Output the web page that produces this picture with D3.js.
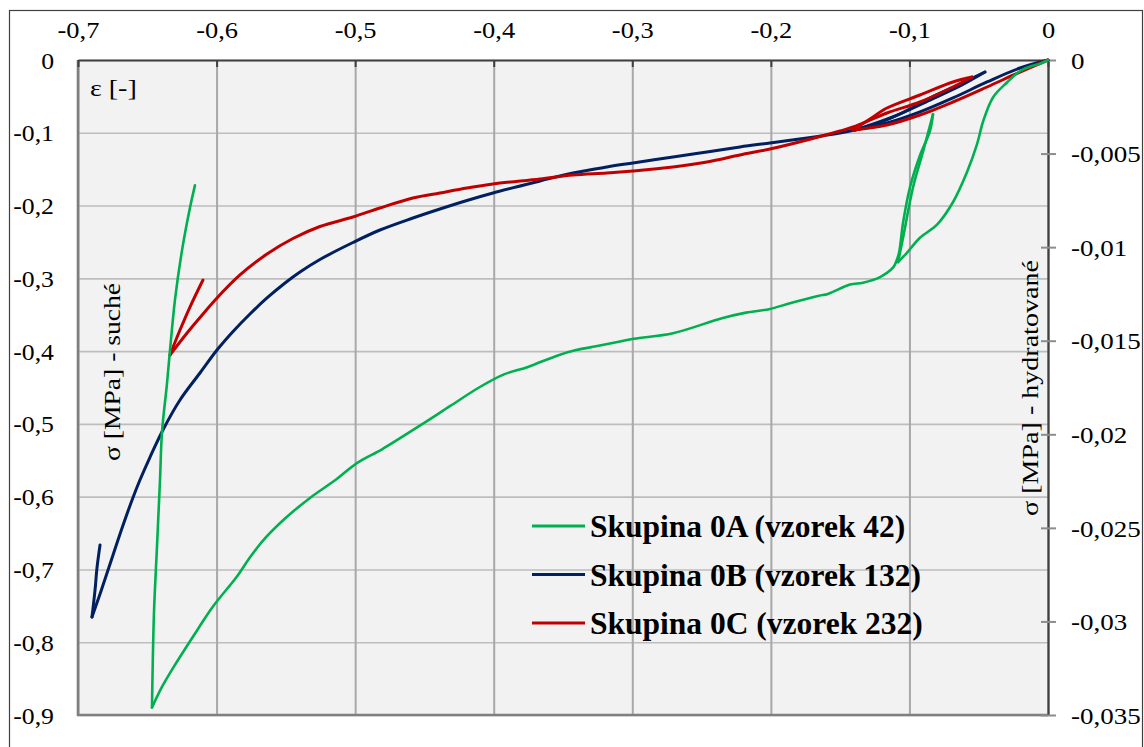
<!DOCTYPE html>
<html>
<head>
<meta charset="utf-8">
<script src="https://cdn.jsdelivr.net/npm/d3@7"></script>
<style>
  html, body { margin: 0; padding: 0; background: #ffffff; }
  svg { display: block; }
</style>
</head>
<body>
<svg id="chart" width="1144" height="747"></svg>
<script>
// Strain ticks (top axis) and stress ticks (left: dry, right: hydrated)
const xTicks = [-0.7, -0.6, -0.5, -0.4, -0.3, -0.2, -0.1, 0];
const yTicksLeft = [0, -0.1, -0.2, -0.3, -0.4, -0.5, -0.6, -0.7, -0.8, -0.9];
const yTicksRight = [0, -0.005, -0.01, -0.015, -0.02, -0.025, -0.03, -0.035];

const seriesNames = ["Skupina 0A (vzorek 42)", "Skupina 0B (vzorek 132)", "Skupina 0C (vzorek 232)"];
const seriesColors = ["#00b050", "#002060", "#c00000"];

// Skupina 0A – hydrated specimen, plotted against the right axis
const epsA = [0, -0.0058, -0.0108, -0.0202, -0.0296, -0.0397, -0.0469, -0.0512, -0.0585, -0.0686,
  -0.0801, -0.0924, -0.1018, -0.1082,
  -0.1046, -0.0974, -0.0902, -0.0830,
  -0.0852, -0.0924, -0.0996, -0.1046, -0.1075, -0.1097,
  -0.1119, -0.1212, -0.1335, -0.1429, -0.1588, -0.1653, -0.1862, -0.2006, -0.2179, -0.2353,
  -0.2706, -0.2988, -0.3125, -0.3262, -0.3406, -0.3543, -0.3753, -0.3926, -0.4106, -0.4316,
  -0.4525, -0.4806, -0.4979, -0.5153, -0.5326, -0.5506, -0.5643, -0.5752, -0.5853, -0.6026,
  -0.6134, -0.6307, -0.6394, -0.6466,
  -0.6452, -0.6430, -0.6408, -0.6394, -0.6358, -0.6336, -0.6300, -0.6250, -0.6192, -0.6156];
const sigmaA = [0, -0.0002, -0.0003, -0.0006, -0.0012, -0.0020, -0.0033, -0.0045, -0.0060, -0.0076,
  -0.0088, -0.0095, -0.0103, -0.0108,
  -0.0095, -0.0068, -0.0049, -0.0029,
  -0.0038, -0.0051, -0.0068, -0.0087, -0.0103, -0.0108,
  -0.0111, -0.0116, -0.0119, -0.0120, -0.0125, -0.0126, -0.0130, -0.0133, -0.0135, -0.0138,
  -0.0146, -0.0149, -0.0151, -0.0153, -0.0155, -0.0158, -0.0164, -0.0168, -0.0175, -0.0185,
  -0.0195, -0.0208, -0.0215, -0.0225, -0.0234, -0.0245, -0.0255, -0.0265, -0.0276, -0.0292,
  -0.0304, -0.0324, -0.0335, -0.0346,
  -0.0296, -0.0260, -0.0224, -0.0199, -0.0173, -0.0155, -0.0128, -0.0102, -0.0079, -0.0067];

// Skupina 0B – dry specimen, left axis
const epsB = [0, -0.0202, -0.0440, -0.0686, -0.0924, -0.1162, -0.1393,
  -0.1140, -0.0852, -0.0635, -0.0455,
  -0.0635, -0.0852, -0.1068, -0.1285, -0.1429,
  -0.1501, -0.1739, -0.2006, -0.2223, -0.2461, -0.2706, -0.2995, -0.3183, -0.3428, -0.3666,
  -0.4005, -0.4193, -0.4388, -0.4583, -0.4821, -0.5016, -0.5254, -0.5398, -0.5506, -0.5636, -0.5759,
  -0.5881, -0.5997, -0.6120, -0.6264, -0.6387, -0.6480, -0.6553, -0.6603, -0.6682, -0.6776, -0.6841, -0.6899,
  -0.6877, -0.6863, -0.6841];
const sigmaB = [0, -0.0110, -0.0302, -0.0522, -0.0714, -0.0866, -0.0962,
  -0.0797, -0.0550, -0.0357, -0.0165,
  -0.0330, -0.0522, -0.0742, -0.0907, -0.0976,
  -0.1003, -0.1072, -0.1140, -0.1195, -0.1264, -0.1333, -0.1415, -0.1470, -0.1553, -0.1663,
  -0.1827, -0.1930, -0.2047, -0.2171, -0.2336, -0.2508, -0.2741, -0.2913, -0.3064, -0.3270, -0.3490,
  -0.3730, -0.3985, -0.4301, -0.4672, -0.5084, -0.5455, -0.5771, -0.6011, -0.6430, -0.6966, -0.7337, -0.7653,
  -0.7282, -0.6980, -0.6664];

// Skupina 0C – dry specimen, left axis
const epsC = [0, -0.0202, -0.0440, -0.0686, -0.0924, -0.1162, -0.1407,
  -0.1285, -0.1162, -0.0924, -0.0686, -0.0548,
  -0.0686, -0.0924, -0.1162, -0.1407,
  -0.1501, -0.1739, -0.2006, -0.2223, -0.2461, -0.2706, -0.2995, -0.3183, -0.3428, -0.3666,
  -0.4005, -0.4193, -0.4388, -0.4583, -0.4821, -0.5016, -0.5254, -0.5449, -0.5636, -0.5831,
  -0.5997, -0.6098, -0.6213, -0.6336,
  -0.6264, -0.6192, -0.6098];
const sigmaC = [0, -0.0165, -0.0371, -0.0577, -0.0756, -0.0893, -0.0962,
  -0.0811, -0.0660, -0.0481, -0.0302, -0.0234,
  -0.0371, -0.0577, -0.0728, -0.0921,
  -0.0976, -0.1099, -0.1223, -0.1305, -0.1401, -0.1470, -0.1525, -0.1553, -0.1580, -0.1635,
  -0.1704, -0.1759, -0.1827, -0.1896, -0.2034, -0.2157, -0.2288, -0.2453, -0.2666, -0.2954,
  -0.3270, -0.3490, -0.3751, -0.4053,
  -0.3710, -0.3394, -0.3023];

const FONT = "'Liberation Serif', 'Times New Roman', Times, serif";

const svg = d3.select("#chart");
const plot = { left: 78, top: 60, right: 1048, bottom: 715 };

const x = d3.scaleLinear().domain([-0.7, 0]).range([plot.left, plot.right]);
const yL = d3.scaleLinear().domain([0, -0.9]).range([plot.top, plot.bottom]);
const yR = d3.scaleLinear().domain([0, -0.035]).range([plot.top, plot.bottom]);

const locale = d3.formatLocale({ decimal: ",", thousands: " ", grouping: [3], currency: ["", ""], minus: "-" });
const fmt = locale.format("~g");

// outer frame
svg.append("rect")
  .attr("x", 9.5).attr("y", 10.5).attr("width", 1133).attr("height", 760)
  .attr("fill", "#ffffff").attr("stroke", "#404040").attr("stroke-width", 1.2);

// plot area background
svg.append("rect")
  .attr("x", plot.left).attr("y", plot.top)
  .attr("width", plot.right - plot.left).attr("height", plot.bottom - plot.top)
  .attr("fill", "#f2f2f2");

const pw = plot.right - plot.left, ph = plot.bottom - plot.top;

// horizontal grid
svg.append("g")
  .attr("transform", `translate(${plot.left},0)`)
  .call(d3.axisLeft(yL).tickValues(yTicksLeft).tickSize(-pw).tickFormat(""))
  .call(g => g.select(".domain").remove())
  .call(g => g.selectAll("line").attr("stroke", "#bdbdbd").attr("stroke-width", 1.6));

// vertical grid
svg.append("g")
  .attr("transform", `translate(0,${plot.bottom})`)
  .call(d3.axisBottom(x).tickValues(xTicks).tickSize(-ph).tickFormat(""))
  .call(g => g.select(".domain").remove())
  .call(g => g.selectAll("line").attr("stroke", "#a8a8a8").attr("stroke-width", 2));

// left and bottom frame of plot area
svg.append("line").attr("x1", plot.left).attr("x2", plot.left).attr("y1", plot.top).attr("y2", plot.bottom + 1)
  .attr("stroke", "#7f7f7f").attr("stroke-width", 2.6);
svg.append("line").attr("x1", plot.left - 1).attr("x2", plot.right).attr("y1", plot.bottom).attr("y2", plot.bottom)
  .attr("stroke", "#7f7f7f").attr("stroke-width", 2.6);

// serif text, widened along its baseline
function styleText(sel, size, weight) {
  sel.attr("font-family", null).attr("font-size", null)
    .style("font-family", FONT).style("font-size", size + "px")
    .style("font-weight", weight || "normal").style("fill", "#000");
}
function widen(sel, sx, x0) {
  sel.attr("x", x0 / sx).attr("transform", `scale(${sx},1)`);
}

// top strain axis
const topAxis = svg.append("g")
  .attr("transform", `translate(0,${plot.top})`)
  .call(d3.axisTop(x).tickValues(xTicks).tickSize(-7).tickSizeOuter(0).tickPadding(0).tickFormat(fmt));
topAxis.attr("font-family", null).attr("font-size", null);
topAxis.select(".domain").attr("stroke", "#404040").attr("stroke-width", 2.2);
topAxis.selectAll(".tick line").attr("stroke", "#404040").attr("stroke-width", 2);
topAxis.selectAll(".tick text").attr("y", -22).attr("dy", 0).call(styleText, 23).call(widen, 1.15, 0);

// left stress axis (dry)
const leftAxis = svg.append("g")
  .attr("transform", `translate(${plot.left},0)`)
  .call(d3.axisLeft(yL).tickValues(yTicksLeft).tickSize(0).tickPadding(0).tickFormat(fmt));
leftAxis.attr("font-family", null).attr("font-size", null);
leftAxis.select(".domain").remove();
leftAxis.selectAll(".tick text").attr("dy", "0.35em").call(styleText, 23).call(widen, 1.12, -24);

// right stress axis (hydrated)
const rightAxis = svg.append("g")
  .attr("transform", `translate(${plot.right},0)`)
  .call(d3.axisRight(yR).tickValues(yTicksRight).tickSize(8).tickSizeOuter(0).tickPadding(0).tickFormat(fmt));
rightAxis.attr("font-family", null).attr("font-size", null);
rightAxis.select(".domain").attr("stroke", "#404040").attr("stroke-width", 2.2);
rightAxis.selectAll(".tick line").attr("x1", -7).attr("x2", 8).attr("stroke", "#8c8c8c").attr("stroke-width", 2);
rightAxis.selectAll(".tick text").attr("dy", "0.35em").attr("text-anchor", "start")
  .call(styleText, 23.5).call(widen, 1.15, 23);

// axis titles
svg.append("text").attr("y", 96).text("ε [-]").call(styleText, 23)
  .attr("x", 90 / 1.22).attr("transform", "scale(1.22,1)");
svg.append("text")
  .attr("transform", `translate(120,372) rotate(-90) scale(1.2,1)`)
  .attr("text-anchor", "middle")
  .text("σ [MPa] - suché").call(styleText, 23);
svg.append("text")
  .attr("transform", `translate(1038,388) rotate(-90) scale(1.22,1)`)
  .attr("text-anchor", "middle")
  .text("σ [MPa] - hydratované").call(styleText, 23);

// split a loading history into monotone branches (loading / unloading / reloading)
function branches(pts) {
  const out = [];
  let cur = [pts[0]], dir = 0;
  for (let i = 1; i < pts.length; i++) {
    const d = Math.sign(pts[i][0] - pts[i - 1][0]);
    if (dir !== 0 && d !== 0 && d !== dir) {
      out.push(cur);
      cur = [pts[i - 1]];
    }
    if (d !== 0) dir = d;
    cur.push(pts[i]);
  }
  out.push(cur);
  return out;
}

// series: dry specimens first, hydrated specimen on top
const series = [
  { eps: epsB, sig: sigmaB, y: yL, color: seriesColors[1], width: 3 },
  { eps: epsC, sig: sigmaC, y: yL, color: seriesColors[2], width: 3 },
  { eps: epsA, sig: sigmaA, y: yR, color: seriesColors[0], width: 2.6 }
];
series.forEach(s => {
  const pts = s.eps.map((e, i) => [e, s.sig[i]]);
  const line = d3.line().x(d => x(d[0])).y(d => s.y(d[1])).curve(d3.curveCatmullRom.alpha(0.5));
  const g = svg.append("g");
  branches(pts).forEach(b => {
    g.append("path").datum(b)
      .attr("d", line)
      .attr("fill", "none")
      .attr("stroke", s.color)
      .attr("stroke-width", s.width)
      .attr("stroke-linejoin", "round")
      .attr("stroke-linecap", "round");
  });
});

// legend
const legend = svg.append("g").attr("transform", "translate(532,526)");
seriesNames.forEach((name, i) => {
  const row = legend.append("g").attr("transform", `translate(0,${i * 48.5})`);
  row.append("line").attr("x1", 0).attr("x2", 53).attr("y1", 0).attr("y2", 0)
    .attr("stroke", seriesColors[i]).attr("stroke-width", 3);
  row.append("text").attr("x", 58).attr("y", 0).attr("dy", "0.35em")
    .text(name).call(styleText, 31.5, "bold");
});
</script>
</body>
</html>
